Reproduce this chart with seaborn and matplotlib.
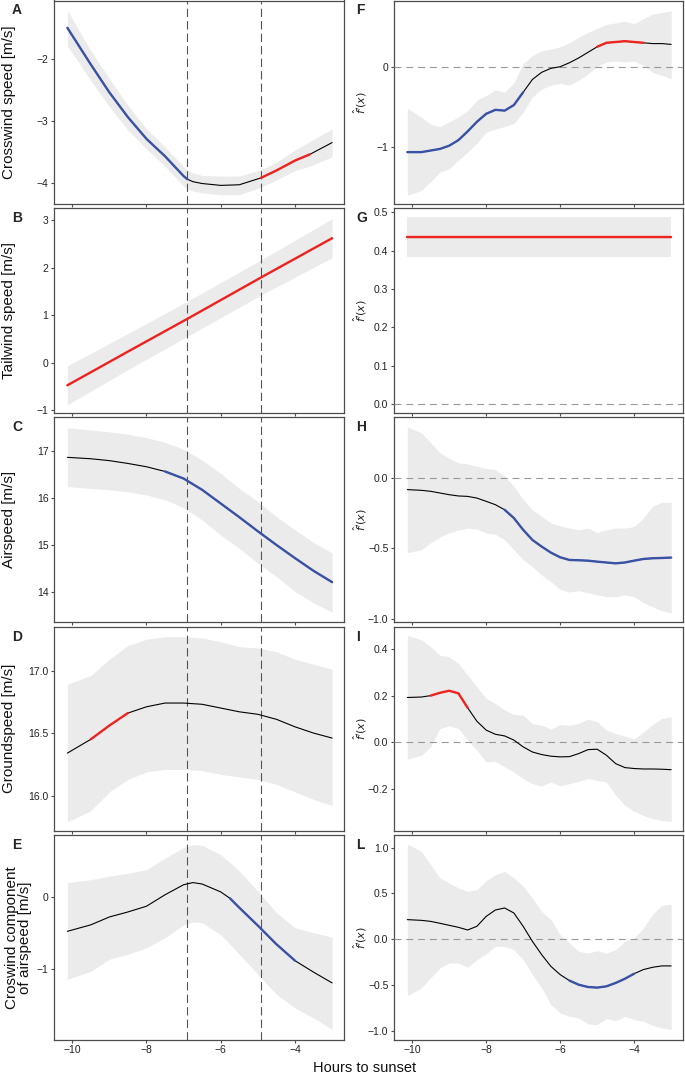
import numpy as np
import matplotlib.pyplot as plt
import seaborn as sns

# ---- data ----------------------------------------------------------------
# left column (A-E): fitted curve, lower / upper band
a_x = [-10.13, -9.5, -9, -8.5, -8, -7.5, -7.0, -6.9, -6.75, -6.5, -6, -5.5, -4.92, -4.5, -4, -3.6, -3.0]
a_fit = [-1.50, -2.09, -2.54, -2.94, -3.29, -3.57, -3.89, -3.94, -3.98, -4.01, -4.04, -4.03, -3.92, -3.80, -3.64, -3.54, -3.35]
a_lo = [-1.79, -2.35, -2.77, -3.15, -3.45, -3.73, -4.05, -4.10, -4.13, -4.16, -4.19, -4.19, -4.07, -3.95, -3.80, -3.73, -3.58]
a_hi = [-1.22, -1.87, -2.32, -2.75, -3.13, -3.42, -3.74, -3.79, -3.84, -3.88, -3.89, -3.89, -3.79, -3.67, -3.47, -3.33, -3.13]

b_x = [-10.13, -8.5, -6.9, -4.92, -3.0]
b_fit = [-0.48, 0.23, 0.92, 1.79, 2.62]
b_lo = [-0.89, -0.15, 0.55, 1.42, 2.21]
b_hi = [-0.07, 0.61, 1.29, 2.16, 3.03]

cd_x = [-10.13, -9.5, -9, -8.5, -8, -7.5, -7, -6.5, -6, -5.5, -5, -4.5, -4, -3.5, -3.0]
c_fit = [16.86, 16.83, 16.79, 16.73, 16.66, 16.56, 16.41, 16.17, 15.88, 15.59, 15.29, 15.00, 14.72, 14.45, 14.21]
c_lo = [16.24, 16.20, 16.17, 16.13, 16.06, 15.96, 15.79, 15.53, 15.21, 14.93, 14.61, 14.33, 14.01, 13.77, 13.57]
c_hi = [17.49, 17.44, 17.40, 17.35, 17.28, 17.18, 17.03, 16.80, 16.52, 16.20, 15.92, 15.60, 15.32, 15.05, 14.83]

d_fit = [16.34, 16.45, 16.56, 16.66, 16.71, 16.74, 16.74, 16.73, 16.70, 16.67, 16.65, 16.61, 16.55, 16.50, 16.46]
d_lo = [15.79, 15.88, 16.03, 16.13, 16.19, 16.21, 16.21, 16.20, 16.17, 16.15, 16.13, 16.09, 16.03, 15.97, 15.92]
d_hi = [16.89, 16.96, 17.09, 17.20, 17.25, 17.27, 17.27, 17.26, 17.23, 17.19, 17.18, 17.15, 17.09, 17.05, 17.01]

e_x = [-10.13, -9.5, -9, -8.5, -8, -7.5, -7, -6.75, -6.5, -6, -5.75, -5.5, -5, -4.5, -4, -3.5, -3.0]
e_fit = [-0.48, -0.39, -0.28, -0.21, -0.13, 0.03, 0.17, 0.20, 0.18, 0.07, -0.02, -0.15, -0.40, -0.66, -0.89, -1.05, -1.20]
e_lo = [-1.15, -1.04, -0.87, -0.80, -0.71, -0.57, -0.39, -0.35, -0.36, -0.53, -0.66, -0.80, -1.08, -1.36, -1.55, -1.69, -1.85]
e_hi = [0.20, 0.24, 0.29, 0.33, 0.38, 0.54, 0.69, 0.73, 0.72, 0.59, 0.48, 0.36, 0.08, -0.22, -0.43, -0.50, -0.56]

# right column (F-L): derivative estimates
r_x = [-10.13, -9.75, -9.5, -9.25, -9, -8.75, -8.5, -8.25, -8, -7.75, -7.5, -7.25, -7, -6.75,
       -6.5, -6.25, -6, -5.75, -5.5, -5.25, -5, -4.75, -4.5, -4.25, -4, -3.75, -3.5, -3.25, -3.0]
f_fit = [-1.07, -1.07, -1.05, -1.03, -0.99, -0.92, -0.81, -0.69, -0.59, -0.54, -0.55, -0.48, -0.32, -0.16,
         -0.07, -0.02, 0.00, 0.05, 0.11, 0.18, 0.25, 0.30, 0.31, 0.32, 0.31, 0.30, 0.29, 0.29, 0.28]
f_lo = [-1.61, -1.55, -1.44, -1.32, -1.28, -1.17, -1.07, -0.96, -0.82, -0.78, -0.75, -0.71, -0.57, -0.38,
        -0.28, -0.23, -0.21, -0.23, -0.17, -0.09, 0.00, 0.06, 0.07, 0.06, 0.07, 0.02, -0.07, -0.11, -0.15]
f_hi = [-0.52, -0.63, -0.72, -0.75, -0.69, -0.63, -0.55, -0.42, -0.36, -0.29, -0.32, -0.20, 0.04, 0.14,
        0.20, 0.22, 0.25, 0.30, 0.37, 0.43, 0.48, 0.53, 0.55, 0.57, 0.54, 0.60, 0.66, 0.68, 0.70]

g_x = [-10.13, -3.0]
g_fit = [0.436, 0.436]
g_lo = [0.384, 0.384]
g_hi = [0.487, 0.487]

h_fit = [-0.083, -0.088, -0.095, -0.107, -0.119, -0.128, -0.131, -0.143, -0.166, -0.19, -0.226, -0.285, -0.368, -0.44,
         -0.487, -0.53, -0.563, -0.582, -0.584, -0.587, -0.594, -0.60, -0.606, -0.60, -0.587, -0.575, -0.57, -0.568, -0.565]
h_lo = [-0.53, -0.51, -0.46, -0.42, -0.39, -0.37, -0.356, -0.363, -0.39, -0.40, -0.44, -0.51, -0.58, -0.63,
        -0.69, -0.736, -0.79, -0.81, -0.80, -0.815, -0.83, -0.84, -0.843, -0.83, -0.843, -0.886, -0.915, -0.943, -0.957]
h_hi = [0.363, 0.32, 0.25, 0.18, 0.14, 0.107, 0.10, 0.083, 0.067, 0.06, 0.012, -0.06, -0.154, -0.226,
        -0.273, -0.32, -0.34, -0.356, -0.368, -0.356, -0.387, -0.368, -0.356, -0.356, -0.344, -0.285, -0.20, -0.173, -0.173]

i_fit = [0.192, 0.194, 0.20, 0.212, 0.221, 0.21, 0.148, 0.09, 0.052, 0.034, 0.027, 0.009, -0.02, -0.042,
         -0.053, -0.06, -0.063, -0.062, -0.049, -0.032, -0.03, -0.056, -0.092, -0.109, -0.113, -0.115, -0.115, -0.116, -0.118]
i_lo = [-0.073, -0.056, -0.02, 0.059, 0.07, 0.059, 0.009, -0.034, -0.085, -0.082, -0.106, -0.128, -0.156, -0.178,
        -0.188, -0.171, -0.188, -0.178, -0.168, -0.156, -0.164, -0.171, -0.228, -0.271, -0.297, -0.314, -0.329, -0.336, -0.34]
i_hi = [0.458, 0.44, 0.41, 0.374, 0.367, 0.338, 0.288, 0.238, 0.188, 0.166, 0.138, 0.119, 0.116, 0.08,
        0.073, 0.056, 0.076, 0.073, 0.08, 0.099, 0.088, 0.052, 0.037, 0.027, 0.013, 0.044, 0.076, 0.102, 0.109]

l_fit = [0.215, 0.207, 0.196, 0.175, 0.153, 0.131, 0.102, 0.142, 0.25, 0.32, 0.342, 0.287, 0.142, -0.022,
         -0.167, -0.295, -0.385, -0.45, -0.495, -0.52, -0.527, -0.513, -0.476, -0.43, -0.375, -0.33, -0.305, -0.29, -0.29]
l_lo = [-0.615, -0.53, -0.42, -0.313, -0.258, -0.258, -0.305, -0.222, -0.16, -0.076, -0.076, -0.113, -0.222, -0.385,
        -0.53, -0.713, -0.804, -0.84, -0.858, -0.924, -0.93, -0.865, -0.887, -0.84, -0.876, -0.895, -0.938, -0.967, -0.985]
l_hi = [1.04, 0.96, 0.815, 0.67, 0.615, 0.56, 0.524, 0.542, 0.64, 0.705, 0.742, 0.67, 0.578, 0.45,
        0.305, 0.215, 0.05, -0.04, -0.13, -0.15, -0.124, -0.15, -0.113, -0.022, 0.015, 0.124, 0.276, 0.37, 0.385]

# significant stretches (start, end, colour)
BLUE = "#3a52a5"
RED = "#ee2420"
a_segs = [(-10.13, -6.9, BLUE), (-4.92, -3.6, RED)]
b_segs = [(-10.13, -3.0, RED)]
c_segs = [(-7.5, -3.0, BLUE)]
d_segs = [(-9.5, -8.5, RED)]
e_segs = [(-5.75, -4.0, BLUE)]
f_segs = [(-10.13, -6.9, BLUE), (-4.92, -3.66, RED)]
g_segs = [(-10.13, -3.0, RED)]
h_segs = [(-7.44, -3.0, BLUE)]
i_segs = [(-9.53, -8.45, RED)]
l_segs = [(-5.75, -3.97, BLUE)]

switch_times = [-6.9, -4.92]

# ---- style ----------------------------------------------------------------
sns.set_theme(style="white")
plt.rcParams['font.family'] = ['Liberation Sans', 'DejaVu Sans']
plt.rcParams['lines.scale_dashes'] = False
plt.rcParams['mathtext.fontset'] = 'dejavusans'

BAND = "#ebebeb"
FRAME = "#4d4d4d"
W, H = 685, 1079

fig = plt.figure(figsize=(6.85, 10.79), dpi=100)

rows = [(0.5, 204), (208.3, 413.3), (417.3, 621.7), (626.7, 830.7), (835.3, 1039.5)]


def make_ax(left, width, top, bot):
    return fig.add_axes([left / W, 1 - bot / H, width / W, (bot - top) / H])


def draw(ax, x, fit, lo, hi, segs):
    x = np.asarray(x)
    fit = np.asarray(fit)
    ax.fill_between(x, lo, hi, color=BAND, lw=0, zorder=1)
    sns.lineplot(x=x, y=fit, color="black", lw=0.8, ax=ax, zorder=4)
    for a, b, col in segs:
        m = (x >= a - 0.13) & (x <= b + 0.13)
        sns.lineplot(x=x[m], y=fit[m], color=col, lw=1.7, ax=ax, zorder=5)


def style(ax, ylim, yticks, fmt, bottom_row):
    ax.set_xlim(-10.49, -2.68)
    ax.set_ylim(*ylim)
    ax.set_xticks([-10, -8, -6, -4])
    ax.set_yticks(yticks)
    ax.set_yticklabels([fmt.format(v).replace("-", "\u2212") for v in yticks])
    for sp in ax.spines.values():
        sp.set_color(FRAME)
        sp.set_linewidth(0.9)
    ax.tick_params(axis="both", bottom=True, left=True, length=2, width=0.8,
                   color=FRAME, labelsize=7.5, pad=2, labelcolor="#222222",
                   labelbottom=bottom_row)
    ax.set_xlabel("")


left_panels = [
    ("A", a_x, a_fit, a_lo, a_hi, a_segs, (-4.34, -1.06), [-4, -3, -2], "{:.0f}", "Crosswind speed [m/s]"),
    ("B", b_x, b_fit, b_lo, b_hi, b_segs, (-1.07, 3.25), [-1, 0, 1, 2, 3], "{:.0f}", "Tailwind speed [m/s]"),
    ("C", cd_x, c_fit, c_lo, c_hi, c_segs, (13.37, 17.71), [14, 15, 16, 17], "{:.0f}", "Airspeed [m/s]"),
    ("D", cd_x, d_fit, d_lo, d_hi, d_segs, (15.72, 17.35), [16.0, 16.5, 17.0], "{:.1f}", "Groundspeed [m/s]"),
    ("E", e_x, e_fit, e_lo, e_hi, e_segs, (-1.99, 0.86), [-1, 0], "{:.0f}", "Croswind component\nof airspeed [m/s]"),
]

right_panels = [
    ("F", r_x, f_fit, f_lo, f_hi, f_segs, (-1.72, 0.83), [-1, 0], "{:.0f}"),
    ("G", g_x, g_fit, g_lo, g_hi, g_segs, (-0.024, 0.51), [0.0, 0.1, 0.2, 0.3, 0.4, 0.5], "{:.1f}"),
    ("H", r_x, h_fit, h_lo, h_hi, h_segs, (-1.02, 0.43), [-1.0, -0.5, 0.0], "{:.1f}"),
    ("I", r_x, i_fit, i_lo, i_hi, i_segs, (-0.38, 0.496), [-0.2, 0.0, 0.2, 0.4], "{:.1f}"),
    ("L", r_x, l_fit, l_lo, l_hi, l_segs, (-1.093, 1.135), [-1.0, -0.5, 0.0, 0.5, 1.0], "{:.1f}"),
]

for k, (letter, x, fit, lo, hi, segs, ylim, yt, fmt, lab) in enumerate(left_panels):
    top, bot = rows[k]
    ax = make_ax(54, 290, top, bot)
    draw(ax, x, fit, lo, hi, segs)
    for t in switch_times:
        ax.axvline(t, color="#555555", lw=0.8, ls=(0, (6, 3)), zorder=3)
    style(ax, ylim, yt, fmt, k == 4)
    ax.set_ylabel(lab, fontsize=11, color="#111111", linespacing=0.95)
    ax.yaxis.set_label_coords(-0.13 if k < 4 else -0.075, 0.5)
    fig.text(12 / W, 1 - (top + 10) / H, letter, fontsize=10, fontweight="bold",
             ha="left", va="center")

for k, (letter, x, fit, lo, hi, segs, ylim, yt, fmt) in enumerate(right_panels):
    top, bot = rows[k]
    ax = make_ax(394, 289, top, bot)
    draw(ax, x, fit, lo, hi, segs)
    ax.axhline(0, color="#999999", lw=0.8, ls=(0, (5, 3.5)), zorder=3)
    style(ax, ylim, yt, fmt, k == 4)
    ax.set_ylabel(r"$\hat{f}'(x)$", fontsize=8, color="#222222")
    ax.yaxis.set_label_coords(-0.085, 0.5)
    fig.text(356 / W, 1 - (top + 10) / H, letter, fontsize=10, fontweight="bold",
             ha="left", va="center")

fig.text(365 / W, 1 - 1068 / H, "Hours to sunset", fontsize=10.5, ha="center", va="center",
         color="#111111")

fig.savefig("out.png", dpi=100)
